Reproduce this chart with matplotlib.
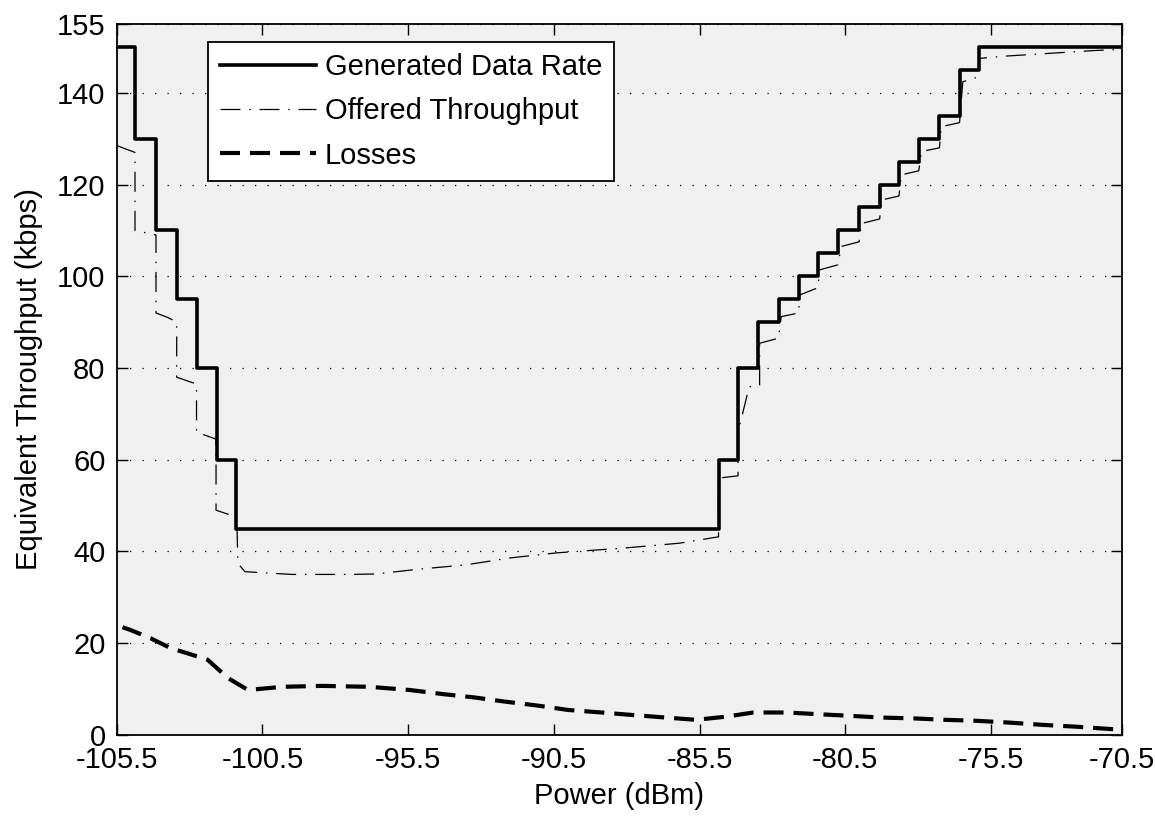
import matplotlib
matplotlib.use('Agg')
import matplotlib.pyplot as plt

plt.rcParams['font.family'] = ['Liberation Sans', 'DejaVu Sans']
plt.rcParams['font.size'] = 21

# Generated data rate (step levels, kbps), each level holds until the next x
gen_x = [-105.5, -104.87, -104.15, -103.42, -102.76, -102.07, -101.39, -84.85,
         -84.18, -83.5, -82.79, -82.1, -81.44, -80.75, -80.03, -79.32, -78.66,
         -77.98, -77.27, -76.58, -75.92, -71.0]
gen_y = [150, 130, 110, 95, 80, 60, 45, 60, 80, 90, 95, 100, 105, 110, 115,
         120, 125, 130, 135, 145, 150, 150]

# Offered throughput (kbps)
off_x = [-105.5, -104.87, -104.87, -104.15, -104.15, -103.74, -103.44, -103.44,
         -102.76, -102.76, -102.09, -102.09, -101.38, -101.34, -101.1, -99.5,
         -97.5, -96.6, -95.2, -93.5, -92.0, -90.4, -88.0, -86.2, -84.85, -84.85,
         -84.18, -84.18, -83.8, -83.44, -83.44, -82.79, -82.7, -82.1, -82.07,
         -81.44, -81.38, -80.75, -80.64, -80.03, -79.95, -79.32, -79.27, -78.66,
         -78.58, -77.98, -77.89, -77.27, -77.21, -76.58, -76.47, -75.92, -75.89,
         -75.0, -73.5, -72.0, -71.0]
off_y = [128.5, 127.0, 110.0, 109.0, 92.0, 91.0, 90.0, 78.0,
         76.5, 66.0, 64.5, 49.0, 47.5, 37.4, 35.6, 35.0,
         35.0, 35.1, 36.1, 37.1, 38.6, 39.7, 40.8, 41.8, 43.2, 56.0,
         56.5, 66.0, 75.9, 76.2, 85.4, 86.5, 91.2, 92.0, 95.9,
         97.5, 101.4, 102.5, 106.5, 107.5, 111.5, 112.5, 116.6, 117.5,
         122.1, 123.0, 127.2, 128.0, 132.6, 133.5, 142.4, 143.5, 147.5,
         148.0, 148.6, 149.2, 149.5]

# Losses (kbps)
loss_x = [-105.3, -105.03, -104.34, -103.64, -103.07, -102.38, -101.68, -100.99,
          -99.83, -98.45, -96.83, -95.44, -94.29, -93.25, -92.21, -91.05, -90.01,
          -88.86, -87.82, -86.66, -85.62, -84.58, -83.66, -82.5, -81.35, -80.42,
          -79.27, -78.11, -77.07, -76.03, -74.88, -73.72, -72.57, -71.41, -71.0]
loss_y = [23.5, 22.9, 21.1, 18.9, 17.8, 16.4, 12.4, 9.8,
          10.5, 10.7, 10.5, 9.8, 8.9, 8.2, 7.3, 6.4, 5.45,
          4.9, 4.36, 3.8, 3.3, 4.0, 4.9, 4.9, 4.5, 4.2,
          3.8, 3.6, 3.3, 3.1, 2.7, 2.2, 1.8, 1.3, 1.1]

x_ticks = [-105.5, -100.5, -95.5, -90.5, -85.5, -80.5, -75.5, -71.0]
x_tick_labels = ['-105.5', '-100.5', '-95.5', '-90.5', '-85.5', '-80.5', '-75.5', '-70.5']
y_ticks = [0, 20, 40, 60, 80, 100, 120, 140, 155]

fig = plt.figure(figsize=(11.55, 8.16), dpi=100)
ax = fig.add_axes([0.1010, 0.0993, 0.8706, 0.8713])
ax.set_facecolor('#f0f0f0')

ax.step(gen_x, gen_y, where='post', color='k', lw=2.6, label='Generated Data Rate')
ax.plot(off_x, off_y, color='k', lw=0.9, linestyle=(0, (16, 7, 1.2, 7)),
        label='Offered Throughput')
ax.plot(loss_x, loss_y, color='k', lw=3, linestyle=(0, (4.8, 2.4)), label='Losses')

ax.set_xlim(-105.5, -71.0)
ax.set_ylim(0, 155)
ax.set_xticks(x_ticks)
ax.set_xticklabels(x_tick_labels)
ax.set_yticks(y_ticks)
ax.tick_params(direction='in', top=True, right=True, length=8, width=1, pad=8)
for s in ax.spines.values():
    s.set_linewidth(1.3)

ax.yaxis.grid(True, color='k', lw=0.9, linestyle=(0, (1, 9)))
ax.set_axisbelow(True)

ax.set_xlabel('Power (dBm)', labelpad=6)
ax.set_ylabel('Equivalent Throughput (kbps)', labelpad=10)

leg = ax.legend(loc='upper left', bbox_to_anchor=(0.0908, 0.975), borderaxespad=0,
                fancybox=False, framealpha=1, edgecolor='k', handlelength=3.3,
                handletextpad=0.3, labelspacing=0.55, borderpad=0.4)
leg.get_frame().set_linewidth(1.3)

fig.savefig('out.png', dpi=100)
